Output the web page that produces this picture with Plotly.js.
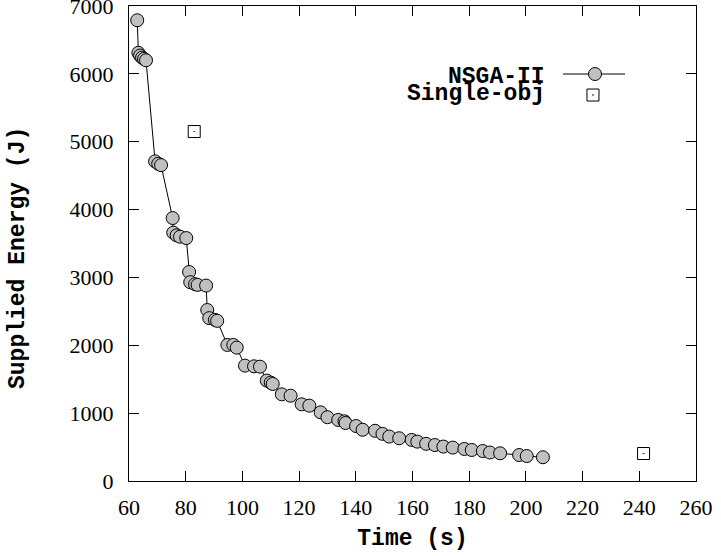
<!DOCTYPE html>
<html>
<head>
<meta charset="utf-8">
<script src="https://cdn.plot.ly/plotly-3.0.1.min.js"></script>
<style>html,body{margin:0;padding:0;background:#fff;}#chart{width:721px;height:556px;}</style>
</head>
<body>
<div id="chart"></div>
<script>
// NSGA-II Pareto front (Time in s, Supplied energy in J)
var nsgaTime = [62.9, 63.3, 63.9, 64.6, 65.3, 66.0, 69.2, 70.3, 71.3, 75.4, 75.6, 76.8, 78.0, 80.2, 81.2, 81.6, 83.3, 84.2, 87.2, 87.6, 88.3, 90.3, 91.1, 94.7, 96.8, 98.0, 100.9, 104.1, 106.2, 108.6, 110.0, 110.7, 113.9, 117.0, 120.9, 123.6, 127.6, 130.0, 133.8, 136.0, 136.4, 140.1, 142.4, 146.8, 149.4, 151.8, 155.3, 159.7, 161.7, 164.8, 167.9, 170.9, 174.2, 178.3, 180.9, 184.8, 187.3, 190.9, 197.6, 200.3, 206.0];
var nsgaEnergy = [6790, 6310, 6270, 6240, 6220, 6200, 4710, 4675, 4655, 3875, 3660, 3620, 3600, 3580, 3080, 2930, 2900, 2890, 2880, 2520, 2400, 2375, 2360, 2005, 2005, 1965, 1700, 1690, 1685, 1480, 1450, 1430, 1277, 1257, 1130, 1110, 1012, 940, 900, 880, 855, 810, 755, 740, 695, 655, 630, 605, 580, 548, 530, 507, 492, 472, 457, 442, 420, 408, 383, 368, 350];
// Single-objective solutions
var singleTime = [83, 241.5];
var singleEnergy = [5150, 405];
// Axis ticks
var xTicks = [60, 80, 100, 120, 140, 160, 180, 200, 220, 240, 260];
var yTicks = [0, 1000, 2000, 3000, 4000, 5000, 6000, 7000];
var seriesNames = ['NSGA-II', 'Single-obj'];
var xTitle = 'Time (s)';
var yTitle = 'Supplied Energy (J)';

var mono = 'Liberation Mono, Courier New, monospace';
var serif = 'Liberation Serif, Times New Roman, serif';

var traces = [
  {
    x: nsgaTime, y: nsgaEnergy, type: 'scatter', mode: 'lines+markers', name: seriesNames[0],
    line: {color: '#000', width: 1},
    marker: {symbol: 'circle', size: 13, color: '#c0c0c0', line: {color: '#000', width: 1}},
    showlegend: false, cliponaxis: false
  },
  {
    x: singleTime, y: singleEnergy, type: 'scatter', mode: 'markers', name: seriesNames[1],
    marker: {symbol: 'square-open-dot', size: 12, color: '#000', line: {color: '#000', width: 1}},
    showlegend: false
  }
];

var axisCommon = {
  showgrid: false, zeroline: false, showline: true, linecolor: '#000', linewidth: 1,
  mirror: 'ticks', ticks: 'inside', ticklen: 10, tickcolor: '#000', tickwidth: 1,
  ticklabeloverflow: 'allow',
  tickfont: {family: serif, size: 22, color: '#000'}
};

var layout = {
  width: 721, height: 556,
  margin: {l: 129, r: 25, t: 6, b: 75},
  paper_bgcolor: '#fff', plot_bgcolor: '#fff',
  xaxis: Object.assign({}, axisCommon, {
    range: [60, 260], tickvals: xTicks, ticktext: xTicks.map(String),
    ticklabelstandoff: 7,
    title: {text: xTitle, font: {family: mono, size: 23, color: '#000', weight: 'bold'}, standoff: 9}
  }),
  yaxis: Object.assign({}, axisCommon, {
    range: [0, 7000], tickvals: yTicks, ticktext: yTicks.map(String),
    ticklabelstandoff: 10
  }),
  showlegend: false,
  annotations: [
    {xref: 'paper', yref: 'paper', x: (18 - 129) / 567, y: (481 - 258) / 475, xanchor: 'center', yanchor: 'middle',
     textangle: -90, showarrow: false,
     text: '<b>' + yTitle + '</b>', font: {family: mono, size: 23, color: '#000'}},
    {xref: 'paper', yref: 'paper', x: 0.738, y: 0.8505, xanchor: 'right', yanchor: 'middle', showarrow: false,
     text: '<b>' + seriesNames[0] + '</b>', font: {family: mono, size: 23, color: '#000'}},
    {xref: 'paper', yref: 'paper', x: 0.738, y: 0.8147, xanchor: 'right', yanchor: 'middle', showarrow: false,
     text: '<b>' + seriesNames[1] + '</b>', font: {family: mono, size: 23, color: '#000'}}
  ],
  shapes: [
    {type: 'line', xref: 'paper', yref: 'paper', x0: 0.7654, x1: 0.8748, y0: 0.8568, y1: 0.8568, line: {color: '#000', width: 1}},
    {type: 'circle', xref: 'paper', yref: 'paper', xsizemode: 'pixel', ysizemode: 'pixel', xanchor: 0.8219, yanchor: 0.8568,
     x0: -6.5, x1: 6.5, y0: -6.5, y1: 6.5, fillcolor: '#c0c0c0', line: {color: '#000', width: 1}},
    {type: 'rect', xref: 'paper', yref: 'paper', xsizemode: 'pixel', ysizemode: 'pixel', xanchor: 0.8183, yanchor: 0.8126,
     x0: -6, x1: 6, y0: -6, y1: 6, fillcolor: 'rgba(0,0,0,0)', line: {color: '#000', width: 1}},
    {type: 'circle', xref: 'paper', yref: 'paper', xsizemode: 'pixel', ysizemode: 'pixel', xanchor: 0.8183, yanchor: 0.8126,
     x0: -0.8, x1: 0.8, y0: -0.8, y1: 0.8, fillcolor: '#000', line: {color: '#000', width: 0}}
  ]
};

Plotly.newPlot('chart', traces, layout, {displayModeBar: false, staticPlot: true});
</script>
</body>
</html>
